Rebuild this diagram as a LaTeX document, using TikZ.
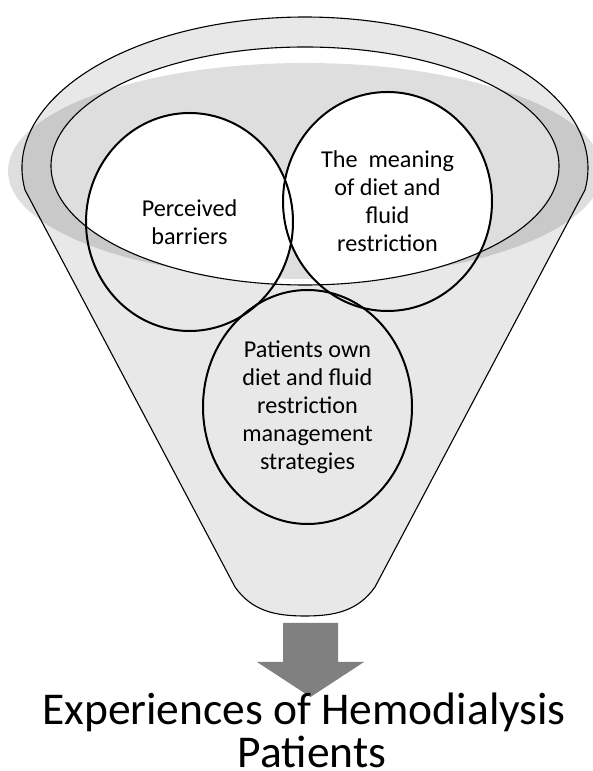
\documentclass[tikz,border=0pt]{standalone}
\usepackage{fontspec}
\setmainfont{Carlito}
\usetikzlibrary{shapes.geometric}
\definecolor{funnelgray}{HTML}{E8E8E8}
\definecolor{arrowgray}{HTML}{808080}
\begin{document}
\begin{tikzpicture}[x=1pt,y=1pt,
  thinline/.style={draw=black, line width=1.1pt},
  ringline/.style={ellipse, draw=black, line width=2pt, inner sep=0pt},
  circletext/.style={font=\fontsize{24.2}{28}\selectfont, align=center, text=black},
  titletext/.style={font=\fontsize{45.5}{48}\selectfont, anchor=base, text=black}]
\useasboundingbox (0,0) rectangle (593,771);

% funnel body
\def\funnelpath{(25.04,580.94) arc[start angle=188.4, end angle=-8.4, x radius=283, y radius=151]
  -- (375,184) .. controls (358,160) and (335,155) .. (305,155)
  .. controls (275,155) and (252,160) .. (235,184) -- cycle}
\fill[funnelgray] \funnelpath;
% mouth of the funnel
\fill[white] (305,605) ellipse [x radius=254, y radius=119];
% shading band
\fill[black, opacity=0.13] (305,600) ellipse [x radius=297, y radius=108];
% white parts of the upper circles inside the mouth
\begin{scope}
  \clip (305,605) ellipse [x radius=254, y radius=119];
  \fill[white] (189.5,549) ellipse [x radius=103.5, y radius=109];
  \fill[white] (387.5,569.5) ellipse [x radius=104.5, y radius=109.5];
\end{scope}
% outlines
\draw[thinline] \funnelpath;
\draw[thinline] (305,605) ellipse [x radius=254, y radius=119];

% circles
\node[ringline, minimum width=207, minimum height=218, circletext] (barriers) at (189.5,549) {Perceived\\barriers};
\node[ringline, minimum width=209, minimum height=219, circletext] (meaning) at (387.5,569.5) {The\ \ meaning\\of diet and\\fluid\\restriction};
\node[ringline, minimum width=209, minimum height=234, circletext] (strategies) at (307.5,364) {Patients own\\diet and fluid\\restriction\\management\\strategies};

% block arrow
\fill[arrowgray] (283,148) -- (338,148) -- (338,109) -- (364,109) -- (310.5,74) -- (257,109) -- (283,109) -- cycle;

% title
\node[titletext] (title1) at (304,46) {Experiences of Hemodialysis};
\node[titletext] (title2) at (312,4) {Patients};
\end{tikzpicture}
\end{document}
